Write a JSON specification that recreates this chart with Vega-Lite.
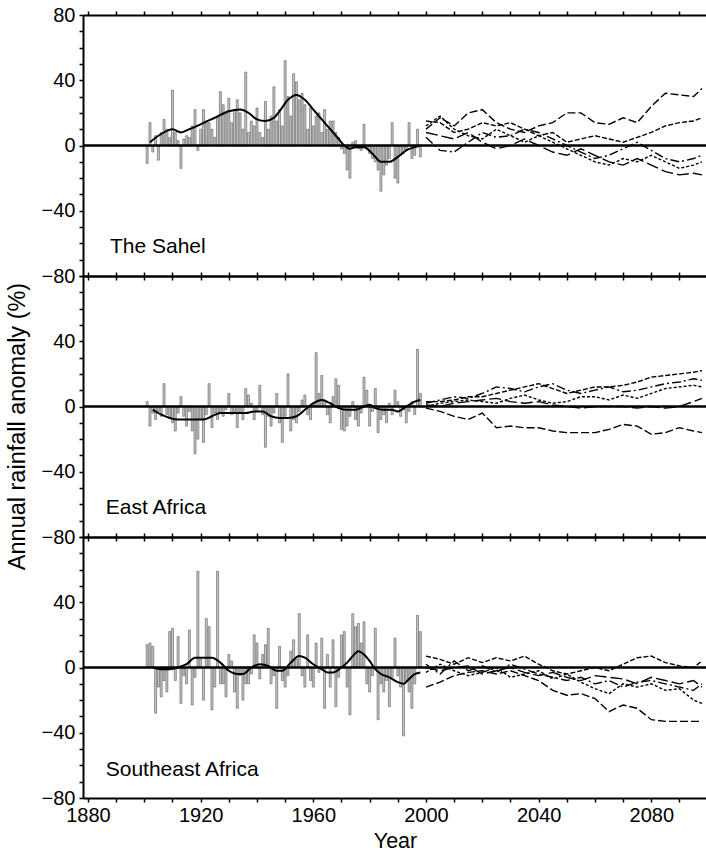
{
  "$schema": "https://vega.github.io/schema/vega-lite/v6.json",
  "padding": {"left": 5, "top": 5, "right": 0, "bottom": 4},
  "spacing": 0,
  "bounds": "flush",
  "config": {
    "font": "Liberation Sans",
    "view": {"stroke": null},
    "axis": {
      "labelFontSize": 20, "labelColor": "black", "labelFont": "Liberation Sans",
      "titleFontSize": 21.5, "titleFontWeight": "normal", "titleColor": "black", "titleFont": "Liberation Sans",
      "tickColor": "black", "tickWidth": 1.5, "tickSize": 4,
      "domainColor": "black", "domainWidth": 2, "grid": false,
      "labelOverlap": false, "labelFlush": false, "labelBound": false
    }
  },
  "datasets": {
    "sahelObs": [
      {"year":1901,"v":-11},{"year":1902,"v":14},{"year":1903,"v":-4},{"year":1904,"v":6},{"year":1905,"v":-9},{"year":1906,"v":8},{"year":1907,"v":16},{"year":1908,"v":10},{"year":1909,"v":5},{"year":1910,"v":34},
      {"year":1911,"v":8},{"year":1912,"v":3},{"year":1913,"v":-14},{"year":1914,"v":4},{"year":1915,"v":6},{"year":1916,"v":5},{"year":1917,"v":12},{"year":1918,"v":22},{"year":1919,"v":-3},{"year":1920,"v":10},
      {"year":1921,"v":22},{"year":1922,"v":14},{"year":1923,"v":14},{"year":1924,"v":10},{"year":1925,"v":5},{"year":1926,"v":18},{"year":1927,"v":33},{"year":1928,"v":25},{"year":1929,"v":20},{"year":1930,"v":29},
      {"year":1931,"v":14},{"year":1932,"v":22},{"year":1933,"v":28},{"year":1934,"v":20},{"year":1935,"v":10},{"year":1936,"v":45},{"year":1937,"v":8},{"year":1938,"v":15},{"year":1939,"v":12},{"year":1940,"v":23},
      {"year":1941,"v":8},{"year":1942,"v":5},{"year":1943,"v":27},{"year":1944,"v":10},{"year":1945,"v":18},{"year":1946,"v":36},{"year":1947,"v":15},{"year":1948,"v":22},{"year":1949,"v":12},{"year":1950,"v":52},
      {"year":1951,"v":30},{"year":1952,"v":18},{"year":1953,"v":44},{"year":1954,"v":39},{"year":1955,"v":28},{"year":1956,"v":32},{"year":1957,"v":25},{"year":1958,"v":10},{"year":1959,"v":23},{"year":1960,"v":12},
      {"year":1961,"v":18},{"year":1962,"v":20},{"year":1963,"v":8},{"year":1964,"v":22},{"year":1965,"v":10},{"year":1966,"v":15},{"year":1967,"v":15},{"year":1968,"v":8},{"year":1969,"v":5},{"year":1970,"v":-2},
      {"year":1971,"v":-5},{"year":1972,"v":-15},{"year":1973,"v":-20},{"year":1974,"v":2},{"year":1975,"v":3},{"year":1976,"v":-2},{"year":1977,"v":-3},{"year":1978,"v":13},{"year":1979,"v":-1},{"year":1980,"v":-5},
      {"year":1981,"v":-8},{"year":1982,"v":-10},{"year":1983,"v":-15},{"year":1984,"v":-28},{"year":1985,"v":-18},{"year":1986,"v":-12},{"year":1987,"v":-8},{"year":1988,"v":14},{"year":1989,"v":-20},{"year":1990,"v":-23},
      {"year":1991,"v":-6},{"year":1992,"v":-5},{"year":1993,"v":-3},{"year":1994,"v":14},{"year":1995,"v":-8},{"year":1996,"v":-6},{"year":1997,"v":10},{"year":1998,"v":-7}
    ],
    "eastObs": [
      {"year":1901,"v":3},{"year":1902,"v":-12},{"year":1903,"v":-4},{"year":1904,"v":-8},{"year":1905,"v":-3},{"year":1906,"v":-6},{"year":1907,"v":14},{"year":1908,"v":-5},{"year":1909,"v":-7},{"year":1910,"v":-10},
      {"year":1911,"v":-15},{"year":1912,"v":-4},{"year":1913,"v":6},{"year":1914,"v":-6},{"year":1915,"v":-12},{"year":1916,"v":-3},{"year":1917,"v":-15},{"year":1918,"v":-29},{"year":1919,"v":-20},{"year":1920,"v":-8},
      {"year":1921,"v":-22},{"year":1922,"v":-5},{"year":1923,"v":14},{"year":1924,"v":-13},{"year":1925,"v":-4},{"year":1926,"v":-8},{"year":1927,"v":-3},{"year":1928,"v":-6},{"year":1929,"v":-2},{"year":1930,"v":8},
      {"year":1931,"v":-5},{"year":1932,"v":-3},{"year":1933,"v":-13},{"year":1934,"v":-4},{"year":1935,"v":-8},{"year":1936,"v":11},{"year":1937,"v":7},{"year":1938,"v":2},{"year":1939,"v":-8},{"year":1940,"v":-3},
      {"year":1941,"v":13},{"year":1942,"v":-5},{"year":1943,"v":-25},{"year":1944,"v":-6},{"year":1945,"v":-12},{"year":1946,"v":-4},{"year":1947,"v":8},{"year":1948,"v":-10},{"year":1949,"v":-22},{"year":1950,"v":-6},
      {"year":1951,"v":20},{"year":1952,"v":-15},{"year":1953,"v":-8},{"year":1954,"v":-10},{"year":1955,"v":-3},{"year":1956,"v":4},{"year":1957,"v":7},{"year":1958,"v":-5},{"year":1959,"v":-8},{"year":1960,"v":2},
      {"year":1961,"v":33},{"year":1962,"v":8},{"year":1963,"v":19},{"year":1964,"v":4},{"year":1965,"v":-5},{"year":1966,"v":-10},{"year":1967,"v":6},{"year":1968,"v":17},{"year":1969,"v":13},{"year":1970,"v":-14},
      {"year":1971,"v":-15},{"year":1972,"v":-12},{"year":1973,"v":-6},{"year":1974,"v":3},{"year":1975,"v":-8},{"year":1976,"v":-12},{"year":1977,"v":-4},{"year":1978,"v":18},{"year":1979,"v":10},{"year":1980,"v":-12},
      {"year":1981,"v":-3},{"year":1982,"v":11},{"year":1983,"v":-16},{"year":1984,"v":-8},{"year":1985,"v":-5},{"year":1986,"v":-10},{"year":1987,"v":2},{"year":1988,"v":-5},{"year":1989,"v":10},{"year":1990,"v":3},
      {"year":1991,"v":-6},{"year":1992,"v":-2},{"year":1993,"v":-10},{"year":1994,"v":-3},{"year":1995,"v":3},{"year":1996,"v":-5},{"year":1997,"v":35},{"year":1998,"v":8}
    ],
    "seObs": [
      {"year":1901,"v":14},{"year":1902,"v":15},{"year":1903,"v":13},{"year":1904,"v":-28},{"year":1905,"v":-12},{"year":1906,"v":-18},{"year":1907,"v":-8},{"year":1908,"v":-15},{"year":1909,"v":22},{"year":1910,"v":24},
      {"year":1911,"v":-8},{"year":1912,"v":19},{"year":1913,"v":-22},{"year":1914,"v":-5},{"year":1915,"v":-10},{"year":1916,"v":23},{"year":1917,"v":-23},{"year":1918,"v":-6},{"year":1919,"v":59},{"year":1920,"v":5},
      {"year":1921,"v":-20},{"year":1922,"v":30},{"year":1923,"v":25},{"year":1924,"v":-26},{"year":1925,"v":-12},{"year":1926,"v":59},{"year":1927,"v":-10},{"year":1928,"v":-10},{"year":1929,"v":-18},{"year":1930,"v":8},
      {"year":1931,"v":4},{"year":1932,"v":-15},{"year":1933,"v":-25},{"year":1934,"v":-5},{"year":1935,"v":-20},{"year":1936,"v":-10},{"year":1937,"v":-10},{"year":1938,"v":-4},{"year":1939,"v":20},{"year":1940,"v":15},
      {"year":1941,"v":-7},{"year":1942,"v":8},{"year":1943,"v":14},{"year":1944,"v":24},{"year":1945,"v":-10},{"year":1946,"v":-5},{"year":1947,"v":-25},{"year":1948,"v":13},{"year":1949,"v":-8},{"year":1950,"v":-12},
      {"year":1951,"v":-5},{"year":1952,"v":10},{"year":1953,"v":17},{"year":1954,"v":5},{"year":1955,"v":33},{"year":1956,"v":-5},{"year":1957,"v":-12},{"year":1958,"v":20},{"year":1959,"v":-8},{"year":1960,"v":-12},
      {"year":1961,"v":15},{"year":1962,"v":-3},{"year":1963,"v":18},{"year":1964,"v":-25},{"year":1965,"v":8},{"year":1966,"v":-12},{"year":1967,"v":17},{"year":1968,"v":-24},{"year":1969,"v":-6},{"year":1970,"v":20},
      {"year":1971,"v":22},{"year":1972,"v":-12},{"year":1973,"v":-29},{"year":1974,"v":33},{"year":1975,"v":25},{"year":1976,"v":27},{"year":1977,"v":15},{"year":1978,"v":28},{"year":1979,"v":-10},{"year":1980,"v":-15},
      {"year":1981,"v":-5},{"year":1982,"v":24},{"year":1983,"v":-32},{"year":1984,"v":-10},{"year":1985,"v":-15},{"year":1986,"v":-8},{"year":1987,"v":-24},{"year":1988,"v":-6},{"year":1989,"v":18},{"year":1990,"v":-5},
      {"year":1991,"v":-12},{"year":1992,"v":-42},{"year":1993,"v":-8},{"year":1994,"v":-15},{"year":1995,"v":-25},{"year":1996,"v":-10},{"year":1997,"v":32},{"year":1998,"v":22}
    ],
    "sahelSm": [
      {"year":1902,"v":2},{"year":1905,"v":6},{"year":1908,"v":9},{"year":1910,"v":10},{"year":1913,"v":8},{"year":1916,"v":10},{"year":1920,"v":13},{"year":1925,"v":17},{"year":1930,"v":21},{"year":1934,"v":22},{"year":1937,"v":20},{"year":1940,"v":16},{"year":1943,"v":15},{"year":1946,"v":17},{"year":1948,"v":21},{"year":1951,"v":28},{"year":1954,"v":31},{"year":1957,"v":28},{"year":1960,"v":22},{"year":1963,"v":16},{"year":1966,"v":10},{"year":1969,"v":4},{"year":1971,"v":0},{"year":1973,"v":-2},{"year":1975,"v":-1},{"year":1978,"v":-1},{"year":1981,"v":-5},{"year":1984,"v":-10},{"year":1987,"v":-10},{"year":1990,"v":-7},{"year":1993,"v":-3},{"year":1996,"v":-1},{"year":1998,"v":0}
    ],
    "eastSm": [
      {"year":1903,"v":-2},{"year":1906,"v":-5},{"year":1909,"v":-7},{"year":1912,"v":-8},{"year":1915,"v":-8},{"year":1918,"v":-8},{"year":1921,"v":-8},{"year":1924,"v":-6},{"year":1927,"v":-4},{"year":1930,"v":-4},{"year":1933,"v":-4},{"year":1936,"v":-4},{"year":1939,"v":-3},{"year":1942,"v":-3},{"year":1945,"v":-6},{"year":1948,"v":-7},{"year":1951,"v":-7},{"year":1954,"v":-6},{"year":1957,"v":-2},{"year":1960,"v":2},{"year":1963,"v":4},{"year":1966,"v":2},{"year":1969,"v":-1},{"year":1972,"v":-2},{"year":1975,"v":-2},{"year":1978,"v":0},{"year":1980,"v":1},{"year":1982,"v":-1},{"year":1985,"v":-2},{"year":1988,"v":-2},{"year":1990,"v":-3},{"year":1993,"v":0},{"year":1996,"v":3},{"year":1998,"v":4}
    ],
    "seSm": [
      {"year":1903,"v":0},{"year":1906,"v":-1},{"year":1909,"v":-1},{"year":1912,"v":0},{"year":1915,"v":2},{"year":1918,"v":6},{"year":1921,"v":6},{"year":1924,"v":6},{"year":1927,"v":3},{"year":1930,"v":-2},{"year":1933,"v":-4},{"year":1935,"v":-4},{"year":1938,"v":0},{"year":1941,"v":2},{"year":1944,"v":1},{"year":1947,"v":-2},{"year":1949,"v":-2},{"year":1952,"v":3},{"year":1955,"v":7},{"year":1957,"v":6},{"year":1960,"v":2},{"year":1963,"v":-1},{"year":1965,"v":-3},{"year":1967,"v":-3},{"year":1970,"v":0},{"year":1972,"v":3},{"year":1974,"v":7},{"year":1976,"v":10},{"year":1978,"v":8},{"year":1980,"v":4},{"year":1982,"v":-1},{"year":1984,"v":-4},{"year":1987,"v":-6},{"year":1990,"v":-9},{"year":1992,"v":-10},{"year":1994,"v":-7},{"year":1996,"v":-4},{"year":1998,"v":-3}
    ],
    "sahelProj": [
      {"m":"A","year":2000,"v":10},{"m":"A","year":2005,"v":17},{"m":"A","year":2010,"v":12},{"m":"A","year":2015,"v":20},{"m":"A","year":2020,"v":22},{"m":"A","year":2025,"v":14},{"m":"A","year":2030,"v":10},{"m":"A","year":2035,"v":8},{"m":"A","year":2040,"v":12},{"m":"A","year":2045,"v":14},{"m":"A","year":2050,"v":20},{"m":"A","year":2055,"v":20},{"m":"A","year":2060,"v":14},{"m":"A","year":2065,"v":13},{"m":"A","year":2070,"v":17},{"m":"A","year":2075,"v":14},{"m":"A","year":2080,"v":24},{"m":"A","year":2085,"v":32},{"m":"A","year":2090,"v":31},{"m":"A","year":2095,"v":30},{"m":"A","year":2098,"v":35},
      {"m":"B","year":2000,"v":15},{"m":"B","year":2005,"v":14},{"m":"B","year":2010,"v":8},{"m":"B","year":2015,"v":10},{"m":"B","year":2020,"v":14},{"m":"B","year":2025,"v":12},{"m":"B","year":2030,"v":14},{"m":"B","year":2035,"v":10},{"m":"B","year":2040,"v":6},{"m":"B","year":2045,"v":8},{"m":"B","year":2050,"v":2},{"m":"B","year":2055,"v":4},{"m":"B","year":2060,"v":6},{"m":"B","year":2065,"v":4},{"m":"B","year":2070,"v":2},{"m":"B","year":2075,"v":5},{"m":"B","year":2080,"v":8},{"m":"B","year":2085,"v":12},{"m":"B","year":2090,"v":14},{"m":"B","year":2095,"v":15},{"m":"B","year":2098,"v":17},
      {"m":"C","year":2000,"v":5},{"m":"C","year":2005,"v":-3},{"m":"C","year":2010,"v":-4},{"m":"C","year":2015,"v":2},{"m":"C","year":2020,"v":8},{"m":"C","year":2025,"v":5},{"m":"C","year":2030,"v":6},{"m":"C","year":2035,"v":10},{"m":"C","year":2040,"v":8},{"m":"C","year":2045,"v":4},{"m":"C","year":2050,"v":0},{"m":"C","year":2055,"v":-4},{"m":"C","year":2060,"v":-8},{"m":"C","year":2065,"v":-6},{"m":"C","year":2070,"v":-2},{"m":"C","year":2075,"v":2},{"m":"C","year":2080,"v":-3},{"m":"C","year":2085,"v":-8},{"m":"C","year":2090,"v":-10},{"m":"C","year":2095,"v":-8},{"m":"C","year":2098,"v":-6},
      {"m":"D","year":2000,"v":12},{"m":"D","year":2005,"v":18},{"m":"D","year":2010,"v":10},{"m":"D","year":2015,"v":6},{"m":"D","year":2020,"v":4},{"m":"D","year":2025,"v":10},{"m":"D","year":2030,"v":6},{"m":"D","year":2035,"v":2},{"m":"D","year":2040,"v":6},{"m":"D","year":2045,"v":2},{"m":"D","year":2050,"v":-2},{"m":"D","year":2055,"v":-6},{"m":"D","year":2060,"v":-10},{"m":"D","year":2065,"v":-12},{"m":"D","year":2070,"v":-8},{"m":"D","year":2075,"v":-10},{"m":"D","year":2080,"v":-6},{"m":"D","year":2085,"v":-10},{"m":"D","year":2090,"v":-14},{"m":"D","year":2095,"v":-12},{"m":"D","year":2098,"v":-10},
      {"m":"E","year":2000,"v":8},{"m":"E","year":2005,"v":6},{"m":"E","year":2010,"v":4},{"m":"E","year":2015,"v":8},{"m":"E","year":2020,"v":2},{"m":"E","year":2025,"v":-2},{"m":"E","year":2030,"v":0},{"m":"E","year":2035,"v":4},{"m":"E","year":2040,"v":0},{"m":"E","year":2045,"v":-4},{"m":"E","year":2050,"v":-6},{"m":"E","year":2055,"v":-2},{"m":"E","year":2060,"v":-6},{"m":"E","year":2065,"v":-10},{"m":"E","year":2070,"v":-12},{"m":"E","year":2075,"v":-8},{"m":"E","year":2080,"v":-12},{"m":"E","year":2085,"v":-16},{"m":"E","year":2090,"v":-18},{"m":"E","year":2095,"v":-17},{"m":"E","year":2098,"v":-18}
    ],
    "eastProj": [
      {"m":"A","year":2000,"v":-1},{"m":"A","year":2005,"v":-3},{"m":"A","year":2010,"v":-6},{"m":"A","year":2015,"v":-8},{"m":"A","year":2020,"v":-4},{"m":"A","year":2025,"v":-13},{"m":"A","year":2030,"v":-12},{"m":"A","year":2035,"v":-13},{"m":"A","year":2040,"v":-13},{"m":"A","year":2045,"v":-15},{"m":"A","year":2050,"v":-16},{"m":"A","year":2055,"v":-16},{"m":"A","year":2060,"v":-16},{"m":"A","year":2065,"v":-14},{"m":"A","year":2070,"v":-11},{"m":"A","year":2075,"v":-12},{"m":"A","year":2080,"v":-17},{"m":"A","year":2085,"v":-16},{"m":"A","year":2090,"v":-13},{"m":"A","year":2095,"v":-15},{"m":"A","year":2098,"v":-16},
      {"m":"B","year":2000,"v":3},{"m":"B","year":2005,"v":3},{"m":"B","year":2010,"v":4},{"m":"B","year":2015,"v":6},{"m":"B","year":2020,"v":6},{"m":"B","year":2025,"v":8},{"m":"B","year":2030,"v":10},{"m":"B","year":2035,"v":12},{"m":"B","year":2040,"v":14},{"m":"B","year":2045,"v":11},{"m":"B","year":2050,"v":8},{"m":"B","year":2055,"v":10},{"m":"B","year":2060,"v":12},{"m":"B","year":2065,"v":12},{"m":"B","year":2070,"v":13},{"m":"B","year":2075,"v":15},{"m":"B","year":2080,"v":18},{"m":"B","year":2085,"v":19},{"m":"B","year":2090,"v":20},{"m":"B","year":2095,"v":21},{"m":"B","year":2098,"v":22},
      {"m":"C","year":2000,"v":2},{"m":"C","year":2005,"v":4},{"m":"C","year":2010,"v":6},{"m":"C","year":2015,"v":5},{"m":"C","year":2020,"v":8},{"m":"C","year":2025,"v":12},{"m":"C","year":2030,"v":11},{"m":"C","year":2035,"v":9},{"m":"C","year":2040,"v":12},{"m":"C","year":2045,"v":14},{"m":"C","year":2050,"v":10},{"m":"C","year":2055,"v":8},{"m":"C","year":2060,"v":10},{"m":"C","year":2065,"v":12},{"m":"C","year":2070,"v":9},{"m":"C","year":2075,"v":10},{"m":"C","year":2080,"v":12},{"m":"C","year":2085,"v":14},{"m":"C","year":2090,"v":15},{"m":"C","year":2095,"v":17},{"m":"C","year":2098,"v":16},
      {"m":"D","year":2000,"v":0},{"m":"D","year":2005,"v":2},{"m":"D","year":2010,"v":3},{"m":"D","year":2015,"v":4},{"m":"D","year":2020,"v":3},{"m":"D","year":2025,"v":2},{"m":"D","year":2030,"v":5},{"m":"D","year":2035,"v":7},{"m":"D","year":2040,"v":4},{"m":"D","year":2045,"v":2},{"m":"D","year":2050,"v":3},{"m":"D","year":2055,"v":6},{"m":"D","year":2060,"v":6},{"m":"D","year":2065,"v":4},{"m":"D","year":2070,"v":7},{"m":"D","year":2075,"v":5},{"m":"D","year":2080,"v":8},{"m":"D","year":2085,"v":11},{"m":"D","year":2090,"v":12},{"m":"D","year":2095,"v":13},{"m":"D","year":2098,"v":12},
      {"m":"E","year":2000,"v":1},{"m":"E","year":2005,"v":0},{"m":"E","year":2010,"v":2},{"m":"E","year":2015,"v":3},{"m":"E","year":2020,"v":4},{"m":"E","year":2025,"v":5},{"m":"E","year":2030,"v":3},{"m":"E","year":2035,"v":2},{"m":"E","year":2040,"v":3},{"m":"E","year":2045,"v":1},{"m":"E","year":2050,"v":0},{"m":"E","year":2055,"v":-1},{"m":"E","year":2060,"v":0},{"m":"E","year":2065,"v":0},{"m":"E","year":2070,"v":0},{"m":"E","year":2075,"v":-1},{"m":"E","year":2080,"v":0},{"m":"E","year":2085,"v":-1},{"m":"E","year":2090,"v":0},{"m":"E","year":2095,"v":3},{"m":"E","year":2098,"v":5}
    ],
    "seProj": [
      {"m":"A","year":2000,"v":-12},{"m":"A","year":2005,"v":-9},{"m":"A","year":2010,"v":-5},{"m":"A","year":2015,"v":-3},{"m":"A","year":2020,"v":-2},{"m":"A","year":2025,"v":-4},{"m":"A","year":2030,"v":-2},{"m":"A","year":2035,"v":-5},{"m":"A","year":2040,"v":-8},{"m":"A","year":2045,"v":-14},{"m":"A","year":2050,"v":-17},{"m":"A","year":2055,"v":-16},{"m":"A","year":2060,"v":-19},{"m":"A","year":2065,"v":-27},{"m":"A","year":2070,"v":-23},{"m":"A","year":2075,"v":-25},{"m":"A","year":2080,"v":-32},{"m":"A","year":2085,"v":-33},{"m":"A","year":2090,"v":-33},{"m":"A","year":2095,"v":-33},{"m":"A","year":2098,"v":-33},
      {"m":"B","year":2000,"v":7},{"m":"B","year":2005,"v":5},{"m":"B","year":2010,"v":2},{"m":"B","year":2015,"v":6},{"m":"B","year":2020,"v":3},{"m":"B","year":2025,"v":6},{"m":"B","year":2030,"v":4},{"m":"B","year":2035,"v":7},{"m":"B","year":2040,"v":2},{"m":"B","year":2045,"v":-2},{"m":"B","year":2050,"v":-4},{"m":"B","year":2055,"v":-2},{"m":"B","year":2060,"v":0},{"m":"B","year":2065,"v":-2},{"m":"B","year":2070,"v":2},{"m":"B","year":2075,"v":6},{"m":"B","year":2080,"v":7},{"m":"B","year":2085,"v":3},{"m":"B","year":2090,"v":1},{"m":"B","year":2095,"v":0},{"m":"B","year":2098,"v":4},
      {"m":"C","year":2000,"v":2},{"m":"C","year":2005,"v":-4},{"m":"C","year":2010,"v":4},{"m":"C","year":2015,"v":-2},{"m":"C","year":2020,"v":1},{"m":"C","year":2025,"v":-3},{"m":"C","year":2030,"v":2},{"m":"C","year":2035,"v":-1},{"m":"C","year":2040,"v":-4},{"m":"C","year":2045,"v":-6},{"m":"C","year":2050,"v":-8},{"m":"C","year":2055,"v":-6},{"m":"C","year":2060,"v":-10},{"m":"C","year":2065,"v":-8},{"m":"C","year":2070,"v":-12},{"m":"C","year":2075,"v":-9},{"m":"C","year":2080,"v":-8},{"m":"C","year":2085,"v":-10},{"m":"C","year":2090,"v":-12},{"m":"C","year":2095,"v":-14},{"m":"C","year":2098,"v":-10},
      {"m":"D","year":2000,"v":-3},{"m":"D","year":2005,"v":2},{"m":"D","year":2010,"v":-2},{"m":"D","year":2015,"v":-5},{"m":"D","year":2020,"v":-3},{"m":"D","year":2025,"v":0},{"m":"D","year":2030,"v":-6},{"m":"D","year":2035,"v":-4},{"m":"D","year":2040,"v":-2},{"m":"D","year":2045,"v":-7},{"m":"D","year":2050,"v":-4},{"m":"D","year":2055,"v":-9},{"m":"D","year":2060,"v":-13},{"m":"D","year":2065,"v":-16},{"m":"D","year":2070,"v":-10},{"m":"D","year":2075,"v":-12},{"m":"D","year":2080,"v":-10},{"m":"D","year":2085,"v":-14},{"m":"D","year":2090,"v":-13},{"m":"D","year":2095,"v":-20},{"m":"D","year":2098,"v":-22},
      {"m":"E","year":2000,"v":0},{"m":"E","year":2005,"v":-2},{"m":"E","year":2010,"v":0},{"m":"E","year":2015,"v":1},{"m":"E","year":2020,"v":-4},{"m":"E","year":2025,"v":-2},{"m":"E","year":2030,"v":0},{"m":"E","year":2035,"v":-3},{"m":"E","year":2040,"v":-5},{"m":"E","year":2045,"v":-3},{"m":"E","year":2050,"v":-6},{"m":"E","year":2055,"v":-8},{"m":"E","year":2060,"v":-5},{"m":"E","year":2065,"v":-6},{"m":"E","year":2070,"v":-7},{"m":"E","year":2075,"v":-10},{"m":"E","year":2080,"v":-6},{"m":"E","year":2085,"v":-8},{"m":"E","year":2090,"v":-10},{"m":"E","year":2095,"v":-8},{"m":"E","year":2098,"v":-12}
    ]
  },
  "vconcat": [
    {
      "width": 624, "height": 261,
      "resolve": {"axis": {"x": "independent", "y": "independent"}},
      "layer": [
        {
          "data": {"name": "sahelObs"},
          "mark": {"type": "bar", "width": 2, "fill": "#c6c6c6", "stroke": "#5a5a5a", "strokeWidth": 0.6},
          "encoding": {
            "x": {"field": "year", "type": "quantitative", "scale": {"domain": [1880, 2098], "nice": false, "zero": false},
                  "axis": {"orient": "bottom", "values": [1880,1890,1900,1910,1920,1930,1940,1950,1960,1970,1980,1990,2000,2010,2020,2030,2040,2050,2060,2070,2080,2090], "labels": false, "title": null}},
            "y": {"field": "v", "type": "quantitative", "scale": {"domain": [-80, 80], "nice": false},
                  "axis": {"orient": "left", "values": [-80,-70,-60,-50,-40,-30,-20,-10,0,10,20,30,40,50,60,70,80], "labelExpr": "datum.value % 40 === 0 ? datum.label : ''", "title": null, "labelPadding": 4}}
          }
        },
        {
          "data": {"name": "sahelSm"},
          "mark": {"type": "line", "color": "black", "strokeWidth": 2, "interpolate": "monotone"},
          "encoding": {"x": {"field": "year", "type": "quantitative", "axis": null}, "y": {"field": "v", "type": "quantitative", "axis": null}}
        },
        {
          "data": {"name": "sahelProj"},
          "mark": {"type": "line", "color": "black", "strokeWidth": 1.4},
          "encoding": {
            "x": {"field": "year", "type": "quantitative",
                  "axis": {"orient": "top", "values": [1880,1890,1900,1910,1920,1930,1940,1950,1960,1970,1980,1990,2000,2010,2020,2030,2040,2050,2060,2070,2080,2090], "labels": false, "title": null}},
            "y": {"field": "v", "type": "quantitative", "axis": null},
            "strokeDash": {"field": "m", "type": "nominal", "legend": null, "scale": {"range": [[8,3],[5,2],[9,3,2,3],[3,2],[12,4]]}}
          }
        },
        {
          "data": {"values": [{}]},
          "mark": {"type": "rule", "color": "black", "strokeWidth": 2.5},
          "encoding": {"y": {"datum": 0, "type": "quantitative", "axis": null}}
        },
        {
          "data": {"values": [{"t": "The Sahel"}]},
          "mark": {"type": "text", "align": "left", "baseline": "middle", "fontSize": 21, "font": "Liberation Sans", "color": "black"},
          "encoding": {"x": {"datum": 1887.8, "type": "quantitative", "axis": null}, "y": {"datum": -62, "type": "quantitative", "axis": null}, "text": {"field": "t"}}
        }
      ]
    },
    {
      "width": 624, "height": 261,
      "resolve": {"axis": {"x": "independent", "y": "independent"}},
      "layer": [
        {
          "data": {"name": "eastObs"},
          "mark": {"type": "bar", "width": 2, "fill": "#c6c6c6", "stroke": "#5a5a5a", "strokeWidth": 0.6},
          "encoding": {
            "x": {"field": "year", "type": "quantitative", "scale": {"domain": [1880, 2098], "nice": false, "zero": false},
                  "axis": {"orient": "bottom", "values": [1880,1890,1900,1910,1920,1930,1940,1950,1960,1970,1980,1990,2000,2010,2020,2030,2040,2050,2060,2070,2080,2090], "labels": false, "title": null}},
            "y": {"field": "v", "type": "quantitative", "scale": {"domain": [-80, 80], "nice": false},
                  "axis": {"orient": "left", "values": [-80,-70,-60,-50,-40,-30,-20,-10,0,10,20,30,40,50,60,70,80], "labelExpr": "datum.value % 40 === 0 && datum.value < 80 ? datum.label : ''", "title": "Annual rainfall anomaly (%)", "titleFontSize": 23.5, "titleY": 150, "titlePadding": 12, "labelPadding": 4}}
          }
        },
        {
          "data": {"name": "eastSm"},
          "mark": {"type": "line", "color": "black", "strokeWidth": 2, "interpolate": "monotone"},
          "encoding": {"x": {"field": "year", "type": "quantitative", "axis": null}, "y": {"field": "v", "type": "quantitative", "axis": null}}
        },
        {
          "data": {"name": "eastProj"},
          "mark": {"type": "line", "color": "black", "strokeWidth": 1.4},
          "encoding": {
            "x": {"field": "year", "type": "quantitative",
                  "axis": {"orient": "top", "values": [1880,1890,1900,1910,1920,1930,1940,1950,1960,1970,1980,1990,2000,2010,2020,2030,2040,2050,2060,2070,2080,2090], "labels": false, "title": null}},
            "y": {"field": "v", "type": "quantitative", "axis": null},
            "strokeDash": {"field": "m", "type": "nominal", "legend": null, "scale": {"range": [[12,4],[8,3],[5,2],[9,3,2,3],[3,2]]}}
          }
        },
        {
          "data": {"values": [{}]},
          "mark": {"type": "rule", "color": "black", "strokeWidth": 2.5},
          "encoding": {"y": {"datum": 0, "type": "quantitative", "axis": null}}
        },
        {
          "data": {"values": [{"t": "East Africa"}]},
          "mark": {"type": "text", "align": "left", "baseline": "middle", "fontSize": 21, "font": "Liberation Sans", "color": "black"},
          "encoding": {"x": {"datum": 1886.3, "type": "quantitative", "axis": null}, "y": {"datum": -62, "type": "quantitative", "axis": null}, "text": {"field": "t"}}
        }
      ]
    },
    {
      "width": 624, "height": 261,
      "resolve": {"axis": {"x": "independent", "y": "independent"}},
      "layer": [
        {
          "data": {"name": "seObs"},
          "mark": {"type": "bar", "width": 2, "fill": "#c6c6c6", "stroke": "#5a5a5a", "strokeWidth": 0.6},
          "encoding": {
            "x": {"field": "year", "type": "quantitative", "scale": {"domain": [1880, 2098], "nice": false, "zero": false},
                  "axis": {"orient": "bottom", "values": [1880,1890,1900,1910,1920,1930,1940,1950,1960,1970,1980,1990,2000,2010,2020,2030,2040,2050,2060,2070,2080,2090], "labelExpr": "(datum.value - 1880) % 40 === 0 ? datum.label : ''", "format": "d", "title": "Year", "labelPadding": 3, "titlePadding": 5}},
            "y": {"field": "v", "type": "quantitative", "scale": {"domain": [-80, 80], "nice": false},
                  "axis": {"orient": "left", "values": [-80,-70,-60,-50,-40,-30,-20,-10,0,10,20,30,40,50,60,70,80], "labelExpr": "datum.value % 40 === 0 && datum.value < 80 ? datum.label : ''", "title": null, "labelPadding": 4}}
          }
        },
        {
          "data": {"name": "seSm"},
          "mark": {"type": "line", "color": "black", "strokeWidth": 2, "interpolate": "monotone"},
          "encoding": {"x": {"field": "year", "type": "quantitative", "axis": null}, "y": {"field": "v", "type": "quantitative", "axis": null}}
        },
        {
          "data": {"name": "seProj"},
          "mark": {"type": "line", "color": "black", "strokeWidth": 1.4},
          "encoding": {
            "x": {"field": "year", "type": "quantitative",
                  "axis": {"orient": "top", "values": [1880,1890,1900,1910,1920,1930,1940,1950,1960,1970,1980,1990,2000,2010,2020,2030,2040,2050,2060,2070,2080,2090], "labels": false, "title": null}},
            "y": {"field": "v", "type": "quantitative", "axis": null},
            "strokeDash": {"field": "m", "type": "nominal", "legend": null, "scale": {"range": [[12,4],[8,3],[5,2],[9,3,2,3],[3,2]]}}
          }
        },
        {
          "data": {"values": [{}]},
          "mark": {"type": "rule", "color": "black", "strokeWidth": 2.5},
          "encoding": {"y": {"datum": 0, "type": "quantitative", "axis": null}}
        },
        {
          "data": {"values": [{"t": "Southeast Africa"}]},
          "mark": {"type": "text", "align": "left", "baseline": "middle", "fontSize": 21, "font": "Liberation Sans", "color": "black"},
          "encoding": {"x": {"datum": 1886.3, "type": "quantitative", "axis": null}, "y": {"datum": -63, "type": "quantitative", "axis": null}, "text": {"field": "t"}}
        }
      ]
    }
  ]
}
